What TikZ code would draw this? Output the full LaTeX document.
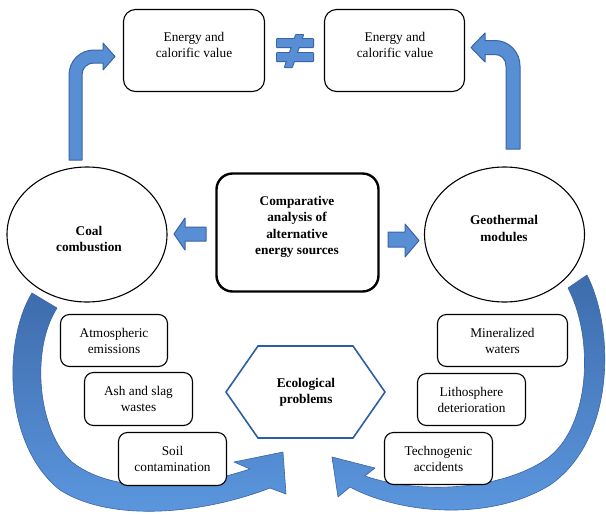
\documentclass[tikz,border=0pt]{standalone}
\usepackage{fontspec}
\setmainfont{Liberation Serif}
\usetikzlibrary{shapes.geometric}
\definecolor{afill}{RGB}{88,142,212}
\definecolor{aline}{RGB}{58,100,165}
\definecolor{ctop}{RGB}{62,108,172}
\definecolor{cbot}{RGB}{92,152,224}
\definecolor{hexline}{RGB}{46,95,160}
\begin{document}
\begin{tikzpicture}[x=1pt,y=-1pt,
  txt/.style={align=center,font=\fontsize{13.3}{16}\selectfont,inner sep=0pt},
  btxt/.style={align=center,font=\fontsize{13.3}{16.5}\selectfont\bfseries,inner sep=0pt},
  rbox/.style={draw=black,fill=white,line width=1.1pt,rounded corners=9pt,inner sep=0pt,align=center,font=\fontsize{13.3}{16}\selectfont},
  oval/.style={draw=black,fill=white,ellipse,line width=1.1pt,inner sep=0pt,minimum width=160,minimum height=135},
  blockarrow/.style={fill=afill,draw=aline,line width=1pt,line join=round},
  curvarrow/.style={top color=ctop,bottom color=cbot,draw=aline,line width=0.6pt,line join=round}
]
\useasboundingbox[fill=white] (0,0) rectangle (606,515);

% curved arrows (behind boxes)
\path[curvarrow] (32,293) .. controls (3,340) and (3,445) .. (60,490)
  .. controls (110,522) and (200,515) .. (270,488) -- (286,494) -- (283,452)
  -- (234,462) -- (250,469) .. controls (180,492) and (110,492) .. (72,462)
  .. controls (38,432) and (30,350) .. (57,308) -- cycle;
\path[curvarrow] (587,275) .. controls (615,330) and (615,440) .. (550,485)
  .. controls (490,522) and (400,514) .. (350,487) -- (338,497) -- (332,457)
  -- (375,468) -- (365,476) .. controls (420,495) and (500,490) .. (545,460)
  .. controls (590,430) and (595,340) .. (568,288) -- cycle;

% top boxes
\node[rbox,rounded corners=12pt,minimum width=141,minimum height=82] (e1) at (194,50.5) {};
\node[txt] (e1t) at (194,45) {Energy and\\calorific value};
\node[rbox,rounded corners=12pt,minimum width=140,minimum height=82] (e2) at (394.5,50.5) {};
\node[txt] (e2t) at (395,45) {Energy and\\calorific value};

% not-equal sign
\path[draw=aline,line width=2pt,line join=round] (277,39) rectangle (313,47) (277,53) rectangle (313,61)
  (296,35) -- (303,35) -- (292,67) -- (285,67) -- cycle;
\path[fill=afill] (277,39) rectangle (313,47);
\path[fill=afill] (277,53) rectangle (313,61);
\path[fill=afill] (296,35) -- (303,35) -- (292,67) -- (285,67) -- cycle;

% bent arrows
\path[blockarrow] (69,160) -- (69,75) .. controls (69,61) and (80,50) .. (94,50) -- (103,50)
  -- (103,43) -- (115,56.5) -- (103,70) -- (103,63) -- (94,63)
  .. controls (87,63) and (82,68) .. (82,75) -- (82,160) -- cycle;
\path[blockarrow] (520,149) -- (520,66) .. controls (520,52) and (509,40.5) .. (495,40.5) -- (485,40.5)
  -- (485,33) -- (471,47.5) -- (485,62) -- (485,54.5) -- (495,54.5)
  .. controls (501,54.5) and (506,59) .. (506,66) -- (506,149) -- cycle;

% ellipses
\node[oval] (coal) at (87,234.5) {};
\node[btxt] (coalt) at (89,239) {Coal\\combustion};
\node[oval] (geo) at (504.5,234.5) {};
\node[btxt] (geot) at (504,228.5) {Geothermal\\modules};

% central box
\node[draw=black,fill=white,line width=2.4pt,rounded corners=16pt,minimum width=162,minimum height=118] (comp) at (297.5,232.5) {};
\node[btxt] (compt) at (297,227) {Comparative\\analysis of\\alternative\\energy sources};

% small horizontal arrows
\path[blockarrow] (206,227) -- (185,227) -- (185,218) -- (174,234) -- (185,250) -- (185,241) -- (206,241) -- cycle;
\path[blockarrow] (388,232) -- (405,232) -- (405,224) -- (419,240.5) -- (405,257) -- (405,247) -- (388,247) -- cycle;

% hexagon
\draw[hexline,line width=1.6pt,line join=miter] (226,392) -- (258,346) -- (353,346) -- (385,392) -- (353,438) -- (258,438) -- cycle;
\node[btxt] (eco) at (306,392.5) {Ecological\\problems};

% small boxes left
\node[rbox,minimum width=107,minimum height=52] (b1) at (114,340.5) {Atmospheric\\emissions};
\node[rbox,minimum width=108,minimum height=53] (b2) at (138.5,399) {Ash and slag\\wastes};
\node[rbox,minimum width=108,minimum height=53] (b3) at (172.5,459) {Soil\\contamination};

% small boxes right
\node[rbox,minimum width=130,minimum height=52] (c1) at (502.5,340.5) {Mineralized\\waters};
\node[rbox,minimum width=108,minimum height=52] (c2) at (471.5,399.5) {Lithosphere\\deterioration};
\node[rbox,minimum width=108,minimum height=52] (c3) at (438.5,458.5) {Technogenic\\accidents};
\end{tikzpicture}
\end{document}
